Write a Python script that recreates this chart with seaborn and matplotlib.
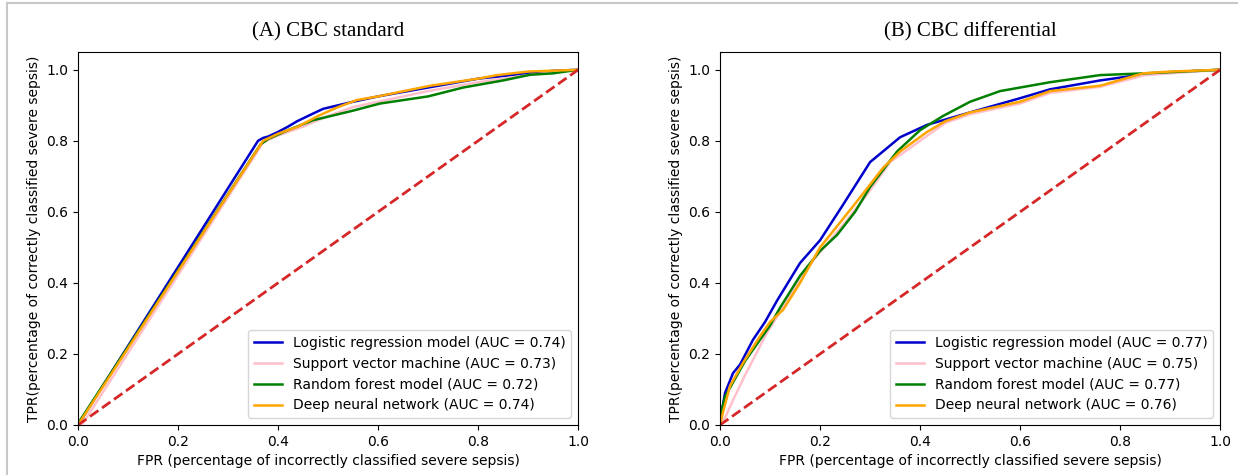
import seaborn as sns
import matplotlib.pyplot as plt
import pandas as pd
from matplotlib.lines import Line2D

models = ['Logistic regression model', 'Support vector machine', 'Random forest model', 'Deep neural network']
colors = ['#0000cc', 'pink', 'green', 'orange']
auc_standard = [0.74, 0.73, 0.72, 0.74]
auc_differential = [0.77, 0.75, 0.77, 0.76]

# (A) CBC standard - ROC points
std_lr_fpr = [0, 0.36, 0.37, 0.38, 0.40, 0.42, 0.438, 0.46, 0.49, 0.52, 0.55, 0.6, 0.7, 0.8, 0.9, 0.95, 1.0]
std_lr_tpr = [0, 0.80, 0.808, 0.812, 0.825, 0.84, 0.855, 0.87, 0.89, 0.90, 0.91, 0.925, 0.95, 0.975, 0.99, 0.997, 1.0]
std_svm_fpr = [0, 0.01, 0.37, 0.40, 0.45, 0.5, 0.55, 0.6, 0.7, 0.8, 0.9, 1.0]
std_svm_tpr = [0, 0.005, 0.795, 0.815, 0.84, 0.87, 0.895, 0.91, 0.94, 0.965, 0.985, 1.0]
std_rf_fpr = [0, 0.005, 0.365, 0.38, 0.42, 0.47, 0.5, 0.55, 0.604, 0.7, 0.77, 0.85, 0.904, 0.95, 1.0]
std_rf_tpr = [0, 0.015, 0.79, 0.805, 0.83, 0.858, 0.868, 0.885, 0.905, 0.925, 0.95, 0.97, 0.986, 0.99, 1.0]
std_dnn_fpr = [0, 0.37, 0.40, 0.44, 0.48, 0.52, 0.558, 0.6, 0.704, 0.8, 0.838, 0.9, 1.0]
std_dnn_tpr = [0, 0.80, 0.82, 0.84, 0.87, 0.895, 0.915, 0.925, 0.955, 0.975, 0.985, 0.995, 1.0]

# (B) CBC differential
dif_lr_fpr = [0, 0.005, 0.01, 0.026, 0.04, 0.066, 0.09, 0.114, 0.16, 0.2, 0.246, 0.30, 0.36, 0.414, 0.5, 0.6, 0.66, 0.76, 0.826, 0.9, 1.0]
dif_lr_tpr = [0, 0.05, 0.09, 0.146, 0.17, 0.24, 0.29, 0.35, 0.456, 0.52, 0.62, 0.74, 0.81, 0.845, 0.88, 0.92, 0.945, 0.97, 0.983, 0.993, 1.0]
dif_svm_fpr = [0, 0.01, 0.026, 0.05, 0.094, 0.13, 0.16, 0.19, 0.22, 0.25, 0.3, 0.34, 0.4, 0.45, 0.5, 0.6, 0.66, 0.76, 0.85, 0.9, 1.0]
dif_svm_tpr = [0, 0.02, 0.07, 0.14, 0.26, 0.34, 0.41, 0.47, 0.52, 0.57, 0.66, 0.74, 0.80, 0.85, 0.875, 0.905, 0.935, 0.952, 0.985, 0.99, 1.0]
dif_rf_fpr = [0, 0.005, 0.01, 0.03, 0.05, 0.08, 0.1, 0.12, 0.16, 0.2, 0.234, 0.27, 0.30, 0.354, 0.40, 0.446, 0.5, 0.56, 0.66, 0.76, 0.85, 1.0]
dif_rf_tpr = [0, 0.05, 0.08, 0.13, 0.18, 0.24, 0.28, 0.33, 0.42, 0.49, 0.535, 0.60, 0.67, 0.77, 0.83, 0.87, 0.91, 0.94, 0.965, 0.985, 0.99, 1.0]
dif_dnn_fpr = [0, 0.006, 0.02, 0.046, 0.08, 0.1, 0.126, 0.16, 0.2, 0.24, 0.274, 0.326, 0.36, 0.414, 0.45, 0.5, 0.6, 0.66, 0.76, 0.846, 0.9, 1.0]
dif_dnn_tpr = [0, 0.036, 0.11, 0.175, 0.25, 0.29, 0.324, 0.40, 0.50, 0.57, 0.63, 0.724, 0.77, 0.825, 0.855, 0.88, 0.91, 0.94, 0.955, 0.99, 0.995, 1.0]


def make_frame(curves, aucs):
    rows = []
    for name, auc, (fpr, tpr) in zip(models, aucs, curves):
        label = f'{name} (AUC = {auc:.2f})'
        for x, y in zip(fpr, tpr):
            rows.append({'model': label, 'fpr': x, 'tpr': y})
    return pd.DataFrame(rows)


df_std = make_frame([(std_lr_fpr, std_lr_tpr), (std_svm_fpr, std_svm_tpr),
                     (std_rf_fpr, std_rf_tpr), (std_dnn_fpr, std_dnn_tpr)], auc_standard)
df_dif = make_frame([(dif_lr_fpr, dif_lr_tpr), (dif_svm_fpr, dif_svm_tpr),
                     (dif_rf_fpr, dif_rf_tpr), (dif_dnn_fpr, dif_dnn_tpr)], auc_differential)

figure = plt.figure(figsize=(12.38, 4.75), dpi=100)
axis1 = figure.add_axes([0.063, 0.1053, 0.404, 0.7852])
axis2 = figure.add_axes([0.5816, 0.1053, 0.404, 0.7852])

for axis, df, title in [(axis1, df_std, '(A) CBC standard'), (axis2, df_dif, '(B) CBC differential')]:
    labels = list(dict.fromkeys(df['model']))
    sns.lineplot(data=df, x='fpr', y='tpr', hue='model', hue_order=labels,
                 palette=dict(zip(labels, colors)), estimator=None, sort=False,
                 linewidth=1.8, ax=axis)
    axis.plot([0, 1], [0, 1], linestyle='--', color='#d62728', linewidth=2)
    axis.set_xlim(0, 1)
    axis.set_ylim(0, 1.05)
    axis.set_xlabel('FPR (percentage of incorrectly classified severe sepsis)', fontsize=10)
    axis.set_ylabel('TPR(percentage of correctly classified severe sepsis)', fontsize=10)
    axis.set_title(title, fontsize=15, family='Liberation Serif', pad=11)
    axis.tick_params(labelsize=10)
    axis.legend(loc='lower right', fontsize=10, title=None)

# light frame of the screenshot
figure.add_artist(Line2D([0.006, 0.006], [0, 0.994], color='#c8c8c8', linewidth=1.5, transform=figure.transFigure))
figure.add_artist(Line2D([0.006, 1.0], [0.994, 0.994], color='#c8c8c8', linewidth=1.5, transform=figure.transFigure))

figure.savefig('out.png', dpi=100)
